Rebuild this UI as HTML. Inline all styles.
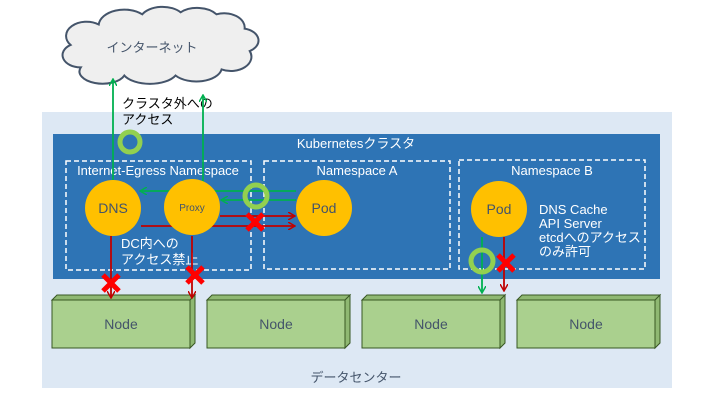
<html><body style="margin:0;background:#fff">
<svg width="720" height="405" viewBox="0 0 720 405" xmlns="http://www.w3.org/2000/svg" font-family="Liberation Sans, Noto Sans CJK JP, sans-serif">
<defs>
<marker id="ag" markerWidth="8" markerHeight="8" refX="6" refY="4" orient="auto" markerUnits="userSpaceOnUse"><path d="M0,0 L7,4 L0,8" fill="none" stroke="#00b050" stroke-width="1.5"/></marker>
<marker id="ar" markerWidth="8" markerHeight="8" refX="6" refY="4" orient="auto" markerUnits="userSpaceOnUse"><path d="M0,0 L7,4 L0,8" fill="none" stroke="#c00000" stroke-width="1.5"/></marker>
</defs>
<rect x="42" y="112" width="630" height="276" fill="#dde8f4"/>
<rect x="53" y="134" width="607" height="145" fill="#2e74b5"/>
<g transform="translate(-28,-2) scale(1.28,1.02)"><path d="M85,68 a14,12 0 0 1 -8,-22 a16,14 0 0 1 22,-20 a20,16 0 0 1 34,-10 a18,14 0 0 1 30,-2 a18,14 0 0 1 28,2 a16,14 0 0 1 22,14 a14,12 0 0 1 4,22 a16,14 0 0 1 -22,18 a20,14 0 0 1 -36,6 a22,14 0 0 1 -40,0 a18,12 0 0 1 -34,-8 z" fill="#efefef" stroke="#44546a" stroke-width="2" vector-effect="non-scaling-stroke"/></g>
<text x="152" y="52" font-size="13" fill="#44546a" text-anchor="middle">インターネット</text>
<g fill="none" stroke="#fff" stroke-width="1.5" stroke-dasharray="5,3">
<rect x="66" y="161" width="185" height="109"/><rect x="264" y="161" width="186" height="108"/><rect x="459" y="160" width="186" height="109"/></g>
<g fill="#fff" font-size="13" text-anchor="middle">
<text x="356" y="148">Kubernetesクラスタ</text>
<text x="158" y="175">Internet-Egress Namespace</text>
<text x="357" y="175">Namespace A</text>
<text x="552" y="175">Namespace B</text></g>
<g fill="#fff" font-size="13"><text x="121" y="248">DC内への</text><text x="121" y="264">アクセス禁止</text>
<text x="539" y="214">DNS Cache</text><text x="539" y="228">API Server</text><text x="539" y="242">etcdへのアクセス</text><text x="539" y="256">のみ許可</text></g>
<g font-size="13" fill="#000"><text x="122" y="108">クラスタ外への</text><text x="122" y="124">アクセス</text></g>
<g fill="#aad08e" stroke="#385723" stroke-width="1">
<path d="M52,300 l5,-5 h138 l-5,5 z M190,300 l5,-5 v48 l-5,5z" fill="#8fb872"/><rect x="52" y="300" width="138" height="48"/>
<path d="M207,300 l5,-5 h138 l-5,5 z M345,300 l5,-5 v48 l-5,5z" fill="#8fb872"/><rect x="207" y="300" width="138" height="48"/>
<path d="M362,300 l5,-5 h138 l-5,5 z M500,300 l5,-5 v48 l-5,5z" fill="#8fb872"/><rect x="362" y="300" width="138" height="48"/>
<path d="M517,300 l5,-5 h138 l-5,5 z M655,300 l5,-5 v48 l-5,5z" fill="#8fb872"/><rect x="517" y="300" width="138" height="48"/></g>
<g font-size="14" fill="#44546a" text-anchor="middle"><text x="121" y="329">Node</text><text x="276" y="329">Node</text><text x="431" y="329">Node</text><text x="586" y="329">Node</text></g>
<g stroke="#00b050" stroke-width="1.8" fill="none">
<line x1="113" y1="182" x2="113" y2="80" marker-end="url(#ag)"/>
<line x1="203" y1="182" x2="203" y2="96" marker-end="url(#ag)"/>
<line x1="296" y1="191" x2="141" y2="191" marker-end="url(#ag)"/>
<line x1="296" y1="200" x2="222" y2="200" marker-end="url(#ag)"/>
<line x1="482" y1="237" x2="482" y2="292" marker-end="url(#ag)"/></g>
<g stroke="#c00000" stroke-width="1.8" fill="none">
<line x1="220" y1="216" x2="294" y2="216" marker-end="url(#ar)"/>
<line x1="141" y1="226" x2="294" y2="226" marker-end="url(#ar)"/>
<line x1="111" y1="236" x2="111" y2="297" marker-end="url(#ar)"/>
<line x1="192" y1="236" x2="192" y2="297" marker-end="url(#ar)"/>
<line x1="504" y1="237" x2="504" y2="290" marker-end="url(#ar)"/></g>
<g fill="#ffc000"><circle cx="113" cy="208" r="28"/><circle cx="192" cy="207" r="28"/><circle cx="324" cy="208" r="28"/><circle cx="499" cy="209" r="28"/></g>
<g fill="#44546a" text-anchor="middle"><text x="113" y="213" font-size="14">DNS</text><text x="192" y="211" font-size="10">Proxy</text><text x="324" y="213" font-size="14">Pod</text><text x="499" y="214" font-size="14">Pod</text></g>
<g fill="none" stroke="#92d050" stroke-width="5"><circle cx="130" cy="142" r="10"/><circle cx="256" cy="196" r="11"/><circle cx="482" cy="261" r="11"/></g>
<g stroke="#ff0000" stroke-width="5">
<path d="M247,214 l16,16 M263,214 l-16,16"/>
<path d="M103,275 l16,16 M119,275 l-16,16"/>
<path d="M187,267 l16,16 M203,267 l-16,16"/>
<path d="M498,255 l16,16 M514,255 l-16,16"/></g>
<text x="356" y="382" font-size="13" fill="#44546a" text-anchor="middle">データセンター</text>
</svg></body></html>
